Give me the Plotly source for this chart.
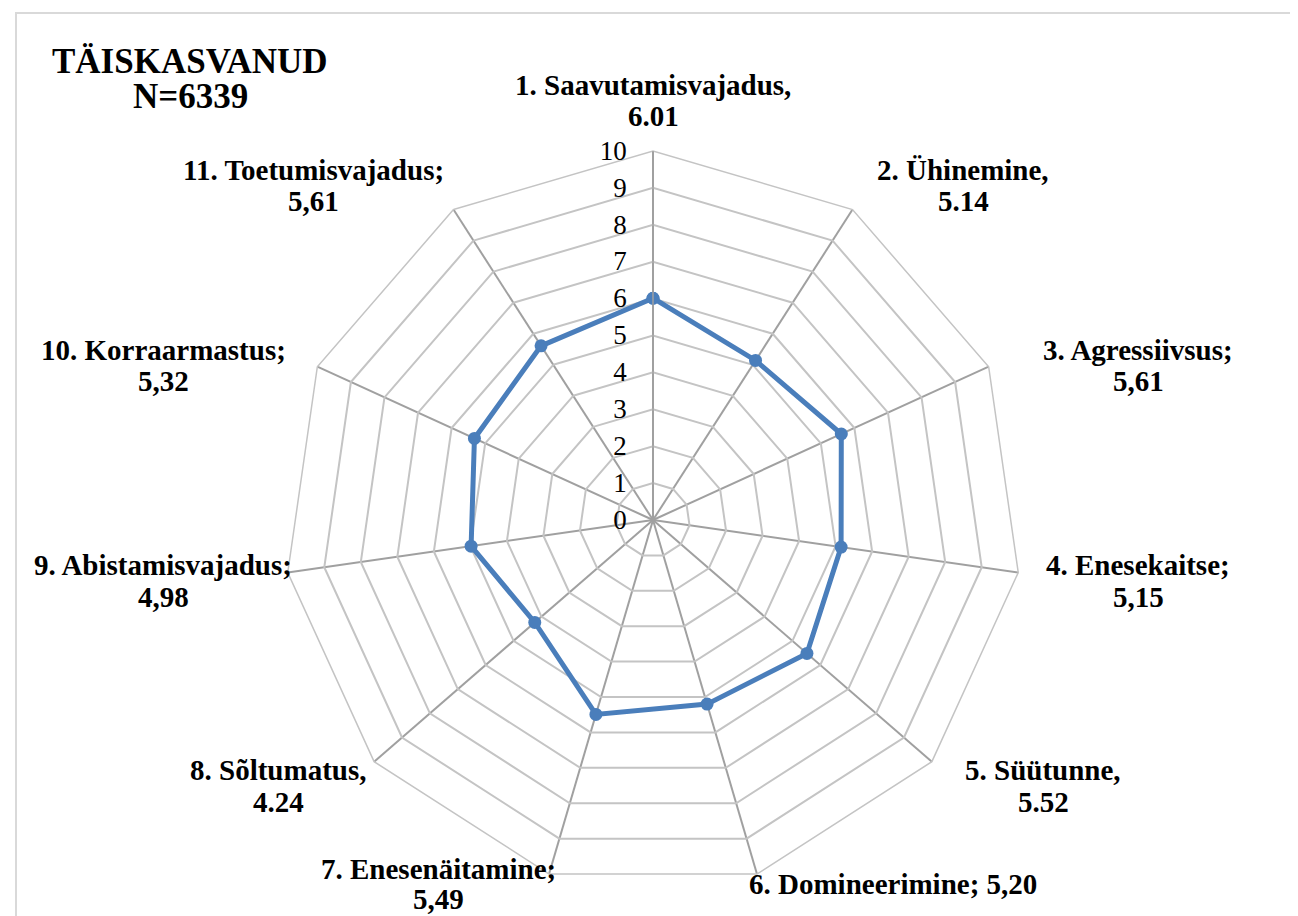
import plotly.graph_objects as go

categories = ["1. Saavutamisvajadus,", "2. Ühinemine,", "3. Agressiivsus;", "4. Enesekaitse;",
              "5. Süütunne,", "6. Domineerimine;", "7. Enesenäitamine;", "8. Sõltumatus,",
              "9. Abistamisvajadus;", "10. Korraarmastus;", "11. Toetumisvajadus;"]
values = [6.01, 5.14, 5.61, 5.15, 5.52, 5.20, 5.49, 4.24, 4.98, 5.32, 5.61]
value_labels = ["6.01", "5.14", "5,61", "5,15", "5.52", "5,20", "5,49", "4.24", "4,98", "5,32", "5,61"]
radial_ticks = list(range(0, 11))
title_lines = ["TÄISKASVANUD", "N=6339"]

W, H = 1298, 916
# label centres in pixels (name line, value line); None value line -> single line
label_pos = [
    ((650, 85), (650, 116)),
    ((960, 170), (960, 201)),
    ((1135, 350), (1135, 381)),
    ((1135, 565), (1135, 597)),
    ((1040, 770), (1040, 802)),
    ((890, 884), None),
    ((435, 869), (435, 899)),
    ((275, 770), (275, 802)),
    ((160, 565), (160, 597)),
    ((160, 350), (160, 381)),
    ((310, 170), (310, 201)),
]
title_pos = [(187, 61), (187, 97)]
DX, DY = -5, -8  # text box offset so glyphs sit where intended

cx, cy, R = 645, 512, 369

fig = go.Figure()
fig.add_trace(go.Scatterpolar(
    r=values + [values[0]],
    theta=categories + [categories[0]],
    mode="lines+markers",
    line=dict(color="#4a7ebb", width=5),
    marker=dict(color="#4a7ebb", size=13),
    showlegend=False,
    hoverinfo="skip",
))

FONT = "Liberation Serif, Times New Roman, serif"
LS = 29
ann = []
def px(x, y):
    return (x + DX) / W, 1 - (y + DY) / H

def add(text, p, size):
    x, y = px(*p)
    ann.append(dict(x=x, y=y, xref="paper", yref="paper", text=f"<b>{text}</b>",
                    showarrow=False, xanchor="center", yanchor="middle",
                    font=dict(family=FONT, size=size, color="black")))

for i, (cat, vl) in enumerate(zip(categories, value_labels)):
    p1, p2 = label_pos[i]
    if p2 is None:
        add(f"{cat} {vl}", p1, LS)
    else:
        add(cat, p1, LS)
        add(vl, p2, LS)
for t, p in zip(title_lines, title_pos):
    add(t, p, 35)

fig.update_layout(
    width=W, height=H,
    margin=dict(l=0, r=0, t=0, b=0),
    paper_bgcolor="white",
    plot_bgcolor="white",
    annotations=ann,
    polar=dict(
        domain=dict(x=[(cx - R) / W, (cx + R) / W], y=[1 - (cy + R) / H, 1 - (cy - R) / H]),
        bgcolor="white",
        gridshape="linear",
        angularaxis=dict(
            rotation=90, direction="clockwise",
            showticklabels=False, ticks="",
            showgrid=True, gridcolor="#a0a0a0", gridwidth=1.5,
            showline=True, linecolor="#c4c4c4", linewidth=1.5,
        ),
        radialaxis=dict(
            range=[0, 10], tickvals=radial_ticks, ticktext=[str(v) for v in radial_ticks],
            angle=90, tickangle=90, side="counterclockwise",
            showgrid=True, gridcolor="#c4c4c4", gridwidth=1.5,
            showline=True, linecolor="#a0a0a0", linewidth=1.5,
            ticks="outside", ticklen=16, tickcolor="rgba(0,0,0,0)",
            tickfont=dict(family=FONT, size=27, color="black"),
        ),
    ),
    shapes=[dict(type="rect", xref="paper", yref="paper",
                 x0=8 / W, x1=1290 / W, y0=-0.02, y1=1 - 5 / H,
                 line=dict(color="#d9d9d9", width=2), fillcolor="rgba(0,0,0,0)", layer="below")],
)

fig.write_html("out.html")
